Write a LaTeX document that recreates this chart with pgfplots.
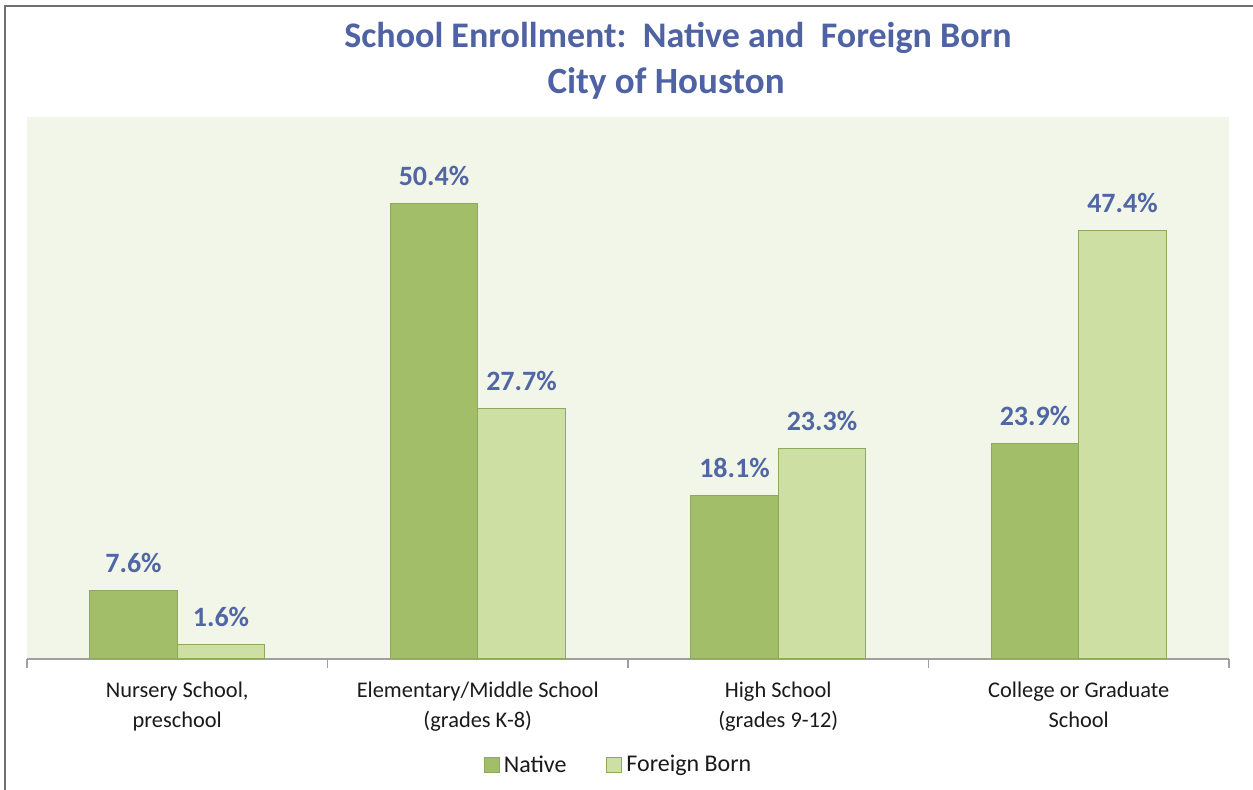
\documentclass[border=0pt]{standalone}
\usepackage{pgfplots}
\pgfplotsset{compat=1.18}
\usepackage{fontspec}
\setmainfont{Carlito}
\definecolor{natfill}{HTML}{A3BE69}
\definecolor{forfill}{HTML}{CDDFA3}
\definecolor{outlinegreen}{HTML}{8EA85C}
\definecolor{bggreen}{HTML}{F1F6E9}
\definecolor{labelblue}{HTML}{5166A5}
\definecolor{titleblue}{HTML}{4E62A4}
\definecolor{axisgray}{HTML}{A0A0A0}
\definecolor{bordergray}{HTML}{707070}
\definecolor{ticktext}{HTML}{1A1A1A}
\begin{document}
\begin{tikzpicture}
\path[use as bounding box, fill=white] (0,0) rectangle (626.5pt,395pt);
\draw[line width=1pt, color=bordergray] (2.5pt,0) -- (2.5pt,392pt) -- (626.5pt,392pt);
\node[font=\bfseries\fontsize{18}{21}\selectfont, text=titleblue, anchor=base] at (339pt,371pt) {School Enrollment:\ \ Native and\ \ Foreign Born};
\node[font=\bfseries\fontsize{18.5}{21}\selectfont, text=titleblue, anchor=base] at (333pt,348pt) {City of Houston};
\begin{axis}[
  at={(13.5pt,65.5pt)}, anchor=south west,
  scale only axis, width=601pt, height=271pt,
  xmin=-0.5, xmax=3.5, ymin=0, ymax=60,
  ybar=0pt, bar width=43.75pt,
  axis background/.style={fill=bggreen},
  axis x line*=bottom, axis y line=none,
  axis line style={draw=axisgray, line width=0.75pt},
  xtick={0,1,2,3},
  xticklabels={{Nursery School,\\preschool},{Elementary/Middle School\\(grades K-8)},{High School\\(grades 9-12)},{College or Graduate\\School}},
  xticklabel style={align=center, font=\fontsize{11.2}{14.8}\selectfont, text=ticktext, yshift=-8pt},
  major tick length=0pt,
  extra x ticks={-0.5,0.5,1.5,2.5,3.5},
  extra x tick labels={},
  extra x tick style={major tick length=4.5pt, tick align=outside, tick style={draw=axisgray, line width=0.75pt}},
  ytick=\empty,
  nodes near coords={\bfseries\pgfmathprintnumber[fixed,fixed zerofill,precision=1,assume math mode=true]{\pgfplotspointmeta}\%},
  every node near coord/.append style={anchor=base, yshift=9pt, font=\fontsize{14}{16}\selectfont, text=labelblue},
  legend style={at={(0.493,-0.196)}, anchor=center, draw=none, fill=none, font=\fontsize{12}{14}\selectfont, text=ticktext, /tikz/every even column/.append style={column sep=18pt}},
  legend columns=2,
]
\addplot[fill=natfill, draw=outlinegreen, line width=0.5pt, legend image code/.code={\draw[fill=natfill, draw=outlinegreen] (0pt,-3.5pt) rectangle (7.5pt,4pt);}] coordinates {(0,7.6) (1,50.4) (2,18.1) (3,23.9)};
\addlegendentry{Native}
\addplot[fill=forfill, draw=outlinegreen, line width=0.5pt, legend image code/.code={\draw[fill=forfill, draw=outlinegreen] (0pt,-3.5pt) rectangle (7.5pt,4pt);}] coordinates {(0,1.6) (1,27.7) (2,23.3) (3,47.4)};
\addlegendentry{Foreign Born}
\end{axis}
\end{tikzpicture}
\end{document}
